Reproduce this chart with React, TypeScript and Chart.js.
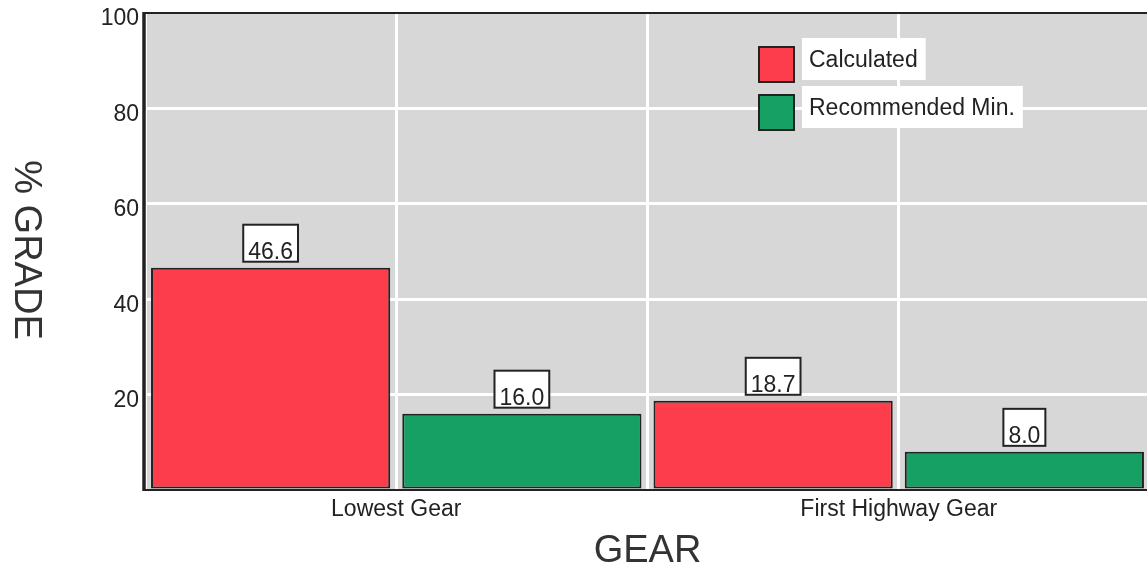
import React, { useEffect, useRef } from "react";
import { Chart, registerables } from "chart.js";

Chart.register(...registerables);

const categories = ["Lowest Gear", "First Highway Gear"];
const seriesNames = ["Calculated", "Recommended Min."];
const calculated = [46.6, 18.7];
const recommendedMin = [16.0, 8.0];
const seriesColors = ["#fd3d4b", "#16a064"];
const yMin = 0;
const yMax = 100;
const yStep = 20;
const xTitle = "GEAR";
const yTitle = "% GRADE";

const FONT = "'Liberation Sans', Arial, Helvetica, sans-serif";
const INK = "#222222";

const plotBackground = {
  id: "plotBackground",
  beforeDraw(chart: any) {
    const { ctx, chartArea: a } = chart;
    ctx.save();
    ctx.fillStyle = "#d7d7d7";
    ctx.fillRect(a.left, a.top, a.right - a.left, a.bottom - a.top);
    ctx.restore();
  },
};

const frameAndLabels = {
  id: "frameAndLabels",
  afterDatasetsDraw(chart: any) {
    const { ctx, chartArea: a } = chart;
    ctx.save();
    // frame
    ctx.strokeStyle = INK;
    ctx.lineWidth = 2;
    ctx.beginPath();
    ctx.moveTo(a.left, a.top);
    ctx.lineTo(a.right, a.top);
    ctx.moveTo(a.left, a.bottom);
    ctx.lineTo(a.right, a.bottom);
    ctx.moveTo(a.right, a.top);
    ctx.lineTo(a.right, a.bottom);
    ctx.stroke();
    ctx.lineWidth = 3.5;
    ctx.beginPath();
    ctx.moveTo(a.left - 1, a.top - 1);
    ctx.lineTo(a.left - 1, a.bottom + 1);
    ctx.stroke();

    // value labels
    ctx.font = `23px ${FONT}`;
    ctx.textAlign = "center";
    ctx.textBaseline = "alphabetic";
    chart.data.datasets.forEach((ds: any, i: number) => {
      const meta = chart.getDatasetMeta(i);
      meta.data.forEach((bar: any, j: number) => {
        const v = ds.data[j];
        const text = Number(v).toFixed(1);
        const w = ctx.measureText(text).width;
        const boxW = w + 10;
        const boxH = 37;
        const boxBottom = bar.y - 6;
        const bx = bar.x - boxW / 2;
        ctx.fillStyle = "#ffffff";
        ctx.fillRect(bx, boxBottom - boxH, boxW, boxH);
        ctx.strokeStyle = INK;
        ctx.lineWidth = 2;
        ctx.strokeRect(bx, boxBottom - boxH, boxW, boxH);
        ctx.fillStyle = INK;
        ctx.fillText(text, bar.x, boxBottom - 3);
      });
    });
    ctx.restore();
  },
  afterDraw(chart: any) {
    const { ctx } = chart;
    ctx.save();
    // legend
    const lx = 759;
    const ly = 47;
    const gap = 48;
    ctx.font = `23px ${FONT}`;
    ctx.textAlign = "left";
    ctx.textBaseline = "alphabetic";
    chart.data.datasets.forEach((ds: any, i: number) => {
      const top = ly + i * gap;
      const tw = ctx.measureText(ds.label).width;
      ctx.fillStyle = "#ffffff";
      ctx.fillRect(lx + 43, top - 9, tw + 15, 42);
      ctx.fillStyle = ds.backgroundColor;
      ctx.fillRect(lx, top, 35, 35);
      ctx.strokeStyle = INK;
      ctx.lineWidth = 2;
      ctx.strokeRect(lx, top, 35, 35);
      ctx.fillStyle = INK;
      ctx.fillText(ds.label, lx + 50, top + 20);
    });
    // y title, rotated clockwise
    ctx.translate(25, 250);
    ctx.rotate(Math.PI / 2);
    ctx.font = `38px ${FONT}`;
    ctx.textAlign = "center";
    ctx.textBaseline = "middle";
    ctx.fillStyle = "#333333";
    ctx.fillText(yTitle, 0, 0);
    ctx.restore();
  },
};

export default function App() {
  const ref = useRef<HTMLCanvasElement | null>(null);

  useEffect(() => {
    document.body.style.margin = "0";
    document.body.style.overflow = "hidden";
    const canvas = ref.current;
    if (!canvas) return;
    const chart = new Chart(canvas, {
      type: "bar",
      data: {
        labels: categories,
        datasets: [
          {
            label: seriesNames[0],
            data: calculated,
            backgroundColor: seriesColors[0],
            borderColor: INK,
            borderWidth: 2,
            borderSkipped: false,
            categoryPercentage: 1,
            barPercentage: 0.952,
          },
          {
            label: seriesNames[1],
            data: recommendedMin,
            backgroundColor: seriesColors[1],
            borderColor: INK,
            borderWidth: 2,
            borderSkipped: false,
            categoryPercentage: 1,
            barPercentage: 0.952,
          },
        ],
      },
      options: {
        responsive: false,
        animation: false,
        devicePixelRatio: 1,
        layout: { padding: { left: 0, top: 13, right: 10, bottom: 0 } },
        plugins: {
          legend: { display: false },
          tooltip: { enabled: false },
          title: { display: false },
        },
        scales: {
          x: {
            type: "category",
            position: "bottom",
            offset: true,
            grid: {
              offset: false,
              color: "#ffffff",
              lineWidth: 3,
              drawTicks: false,
            },
            border: { display: false },
            ticks: {
              color: INK,
              font: { family: FONT, size: 23 },
              padding: 6,
              maxRotation: 0,
            },
            title: {
              display: true,
              text: xTitle,
              color: "#333333",
              font: { family: FONT, size: 38 },
              padding: { top: 0, bottom: 0 },
            },
            afterFit(scale: any) {
              scale.height = 84;
              scale.paddingLeft = 0;
              scale.paddingRight = 0;
            },
          },
          x2: {
            type: "category",
            position: "bottom",
            offset: true,
            grid: {
              offset: true,
              color: "#ffffff",
              lineWidth: 3,
              drawTicks: false,
            },
            border: { display: false },
            ticks: { display: false },
            afterFit(scale: any) {
              scale.height = 0;
            },
          },
          y: {
            type: "linear",
            min: yMin,
            max: yMax,
            grid: {
              color: (c: any) =>
                c.tick && (c.tick.value === yMin || c.tick.value === yMax)
                  ? "rgba(0,0,0,0)"
                  : "#ffffff",
              lineWidth: 3,
              drawTicks: false,
            },
            border: { display: false },
            ticks: {
              stepSize: yStep,
              color: INK,
              font: { family: FONT, size: 23 },
              padding: 6,
              labelOffset: 6,
              callback: (v: any) => (Number(v) === 0 ? "" : String(v)),
            },
            afterFit(scale: any) {
              scale.width = 145;
              scale.paddingTop = 0;
              scale.paddingBottom = 0;
            },
          },
        },
      },
      plugins: [plotBackground, frameAndLabels],
    });
    return () => chart.destroy();
  }, []);

  return (
    <div
      style={{
        position: "fixed",
        left: 0,
        top: 0,
        width: 1147,
        height: 574,
        overflow: "hidden",
        background: "#ffffff",
      }}
    >
      <canvas
        ref={ref}
        width={1160}
        height={574}
        style={{ width: 1160, height: 574, display: "block" }}
      />
    </div>
  );
}
